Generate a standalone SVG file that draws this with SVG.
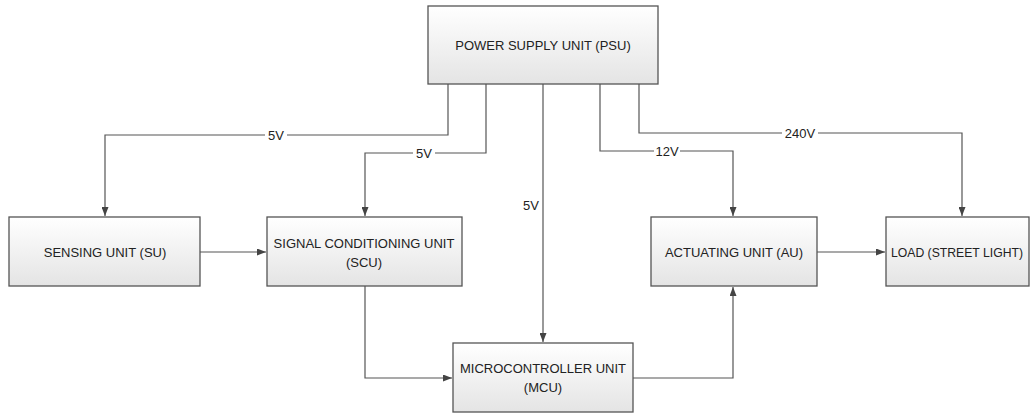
<svg xmlns="http://www.w3.org/2000/svg" width="1030" height="415" viewBox="0 0 1030 415">
<defs>
<linearGradient id="g" x1="0" y1="0" x2="0" y2="1">
<stop offset="0" stop-color="#ffffff"/>
<stop offset="1" stop-color="#e4e4e4"/>
</linearGradient>
<marker id="a" markerWidth="9" markerHeight="7" refX="9" refY="3.5" orient="auto" markerUnits="userSpaceOnUse">
<path d="M0,0 L9,3.5 L0,7 Z" fill="#444"/>
</marker>
<style>
.box{fill:url(#g);stroke:#555;stroke-width:1.3}
.t{font-family:"Liberation Sans",Arial,sans-serif;font-size:13px;fill:#222;text-anchor:middle;dominant-baseline:central}
.c2{fill:none;stroke:#555;stroke-width:1.2;marker-end:url(#a)}
.lb{fill:#fff}
</style>
</defs>
<rect width="1030" height="415" fill="#fff"/>
<g id="connectors">
<path class="c2" d="M448,84 V135 H105 V216"/>
<path class="c2" d="M486,84 V153 H365 V216"/>
<path class="c2" d="M543,84 V342"/>
<path class="c2" d="M600,84 V151 H733 V216"/>
<path class="c2" d="M639,84 V133 H962 V216"/>
<path class="c2" d="M200,252 H266"/>
<path class="c2" d="M365,286 V378 H452"/>
<path class="c2" d="M633,378 H733 V287"/>
<path class="c2" d="M817,252 H885"/>
<rect class="lb" x="265" y="128" width="22" height="14"/>
<text class="t" x="276" y="135">5V</text>
<rect class="lb" x="413" y="146" width="22" height="14"/>
<text class="t" x="424" y="153">5V</text>
<text class="t" x="531" y="205">5V</text>
<rect class="lb" x="654" y="144" width="26" height="14"/>
<text class="t" x="667" y="151">12V</text>
<rect class="lb" x="782" y="126" width="36" height="14"/>
<text class="t" x="800" y="133">240V</text>
</g>
<g id="psu">
<rect class="box" x="428" y="6" width="230" height="78"/>
<text class="t" x="543" y="45">POWER SUPPLY UNIT (PSU)</text>
</g>
<g id="su">
<rect class="box" x="9" y="217" width="191" height="69"/>
<text class="t" x="105" y="252">SENSING UNIT (SU)</text>
</g>
<g id="scu">
<rect class="box" x="267" y="217" width="195" height="69"/>
<text class="t" x="364" y="243">SIGNAL CONDITIONING UNIT</text>
<text class="t" x="364" y="262">(SCU)</text>
</g>
<g id="mcu">
<rect class="box" x="453" y="343" width="180" height="69"/>
<text class="t" x="543" y="368">MICROCONTROLLER UNIT</text>
<text class="t" x="543" y="387">(MCU)</text>
</g>
<g id="au">
<rect class="box" x="651" y="217" width="166" height="69"/>
<text class="t" x="734" y="252">ACTUATING UNIT (AU)</text>
</g>
<g id="load">
<rect class="box" x="886" y="217" width="143" height="69"/>
<text class="t" x="891" y="252" style="text-anchor:start" textLength="132" lengthAdjust="spacingAndGlyphs">LOAD (STREET LIGHT)</text>
</g>
</svg>
